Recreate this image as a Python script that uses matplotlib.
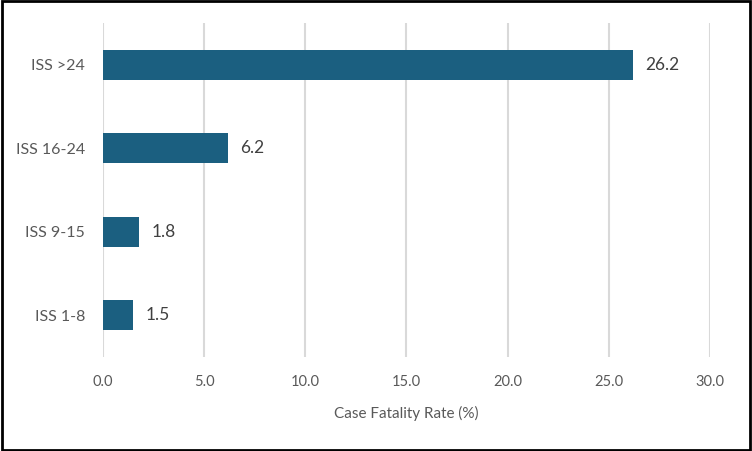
import matplotlib.pyplot as plt
from matplotlib.patches import Rectangle

# ================= DATA =================
categories = ["ISS 1-8", "ISS 9-15", "ISS 16-24", "ISS >24"]
cfr = [1.5, 1.8, 6.2, 26.2]
xticks = [0, 5, 10, 15, 20, 25, 30]

BAR_COLOR = "#1B5F80"
TEXT_COLOR = "#595959"
GRID_COLOR = "#D9D9D9"

# ================= PLOT =================
plt.rcParams["font.family"] = ["Lato", "DejaVu Sans"]

fig = plt.figure(figsize=(7.52, 4.51), dpi=100)
ax = fig.add_axes([0.137, 0.208, 0.807, 0.741])

y = range(len(categories))
ax.barh(y, cfr, height=0.36, color=BAR_COLOR, zorder=3)

for yi, v in zip(y, cfr):
    ax.text(v + 0.6, yi, f"{v:.1f}", va="center", ha="left",
            fontsize=12.5, color="#404040")

ax.set_xlim(0, 30)
ax.set_ylim(-0.5, len(categories) - 0.5)
ax.set_xticks(xticks)
ax.set_xticklabels([f"{t:.1f}" for t in xticks], fontsize=10.5, color=TEXT_COLOR)
ax.set_yticks(list(y))
ax.set_yticklabels(categories, fontsize=11.5, color=TEXT_COLOR)
ax.tick_params(axis="both", length=0)
ax.tick_params(axis="y", pad=13)
ax.tick_params(axis="x", pad=13)

ax.grid(axis="x", color=GRID_COLOR, linewidth=1.5, zorder=0)
for s in ax.spines.values():
    s.set_visible(False)

ax.set_xlabel("Case Fatality Rate (%)", fontsize=11, color=TEXT_COLOR, labelpad=12)

# outer border
fig.patches.append(Rectangle((0.002, 0.003), 0.996, 0.994, transform=fig.transFigure,
                             fill=False, edgecolor="black", linewidth=2))

fig.savefig("out.png", dpi=100)
